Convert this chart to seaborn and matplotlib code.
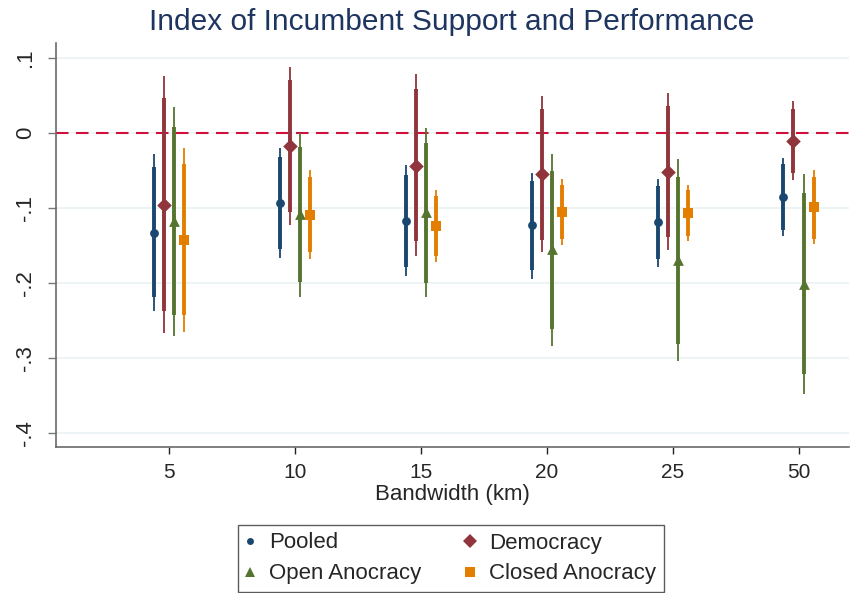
import numpy as np
import pandas as pd
import matplotlib
matplotlib.use("Agg")
import matplotlib.pyplot as plt
from matplotlib.lines import Line2D
import seaborn as sns

# bandwidths (x categories)
bandwidths = ["5", "10", "15", "20", "25", "50"]
groups = ["Pooled", "Democracy", "Open Anocracy", "Closed Anocracy"]

# point estimates per group, one per bandwidth
pooled_est = [-0.133, -0.093, -0.117, -0.123, -0.119, -0.085]
democ_est = [-0.096, -0.018, -0.044, -0.055, -0.052, -0.011]
open_est = [-0.118, -0.108, -0.106, -0.155, -0.169, -0.201]
closed_est = [-0.143, -0.109, -0.124, -0.105, -0.107, -0.099]

# 90% intervals (thick)
pooled_lo90 = [-0.219, -0.154, -0.178, -0.182, -0.168, -0.129]
pooled_hi90 = [-0.046, -0.032, -0.056, -0.064, -0.071, -0.042]
democ_lo90 = [-0.237, -0.105, -0.144, -0.143, -0.139, -0.053]
democ_hi90 = [0.046, 0.070, 0.058, 0.032, 0.035, 0.032]
open_lo90 = [-0.243, -0.199, -0.200, -0.261, -0.281, -0.321]
open_hi90 = [0.007, -0.019, -0.013, -0.051, -0.059, -0.080]
closed_lo90 = [-0.243, -0.159, -0.164, -0.141, -0.138, -0.141]
closed_hi90 = [-0.042, -0.059, -0.084, -0.070, -0.076, -0.059]

# 95% intervals (thin)
pooled_lo95 = [-0.237, -0.167, -0.190, -0.194, -0.178, -0.138]
pooled_hi95 = [-0.028, -0.020, -0.043, -0.053, -0.061, -0.033]
democ_lo95 = [-0.267, -0.123, -0.164, -0.159, -0.156, -0.063]
democ_hi95 = [0.075, 0.088, 0.078, 0.049, 0.053, 0.042]
open_lo95 = [-0.270, -0.218, -0.219, -0.283, -0.304, -0.347]
open_hi95 = [0.034, 0.000, 0.006, -0.028, -0.035, -0.055]
closed_lo95 = [-0.265, -0.168, -0.172, -0.149, -0.144, -0.148]
closed_hi95 = [-0.020, -0.049, -0.076, -0.062, -0.070, -0.050]

yticks = [0.1, 0, -0.1, -0.2, -0.3, -0.4]
ytick_labels = [".1", "0", "-.1", "-.2", "-.3", "-.4"]

colors = {"Pooled": "#1a476f", "Democracy": "#90353b",
          "Open Anocracy": "#55752f", "Closed Anocracy": "#e37e00"}
markers = {"Pooled": "o", "Democracy": "D", "Open Anocracy": "^", "Closed Anocracy": "s"}
sizes = {"Pooled": 40, "Democracy": 55, "Open Anocracy": 60, "Closed Anocracy": 50}
offsets = {"Pooled": -0.12, "Democracy": -0.04, "Open Anocracy": 0.04, "Closed Anocracy": 0.12}

est = [pooled_est, democ_est, open_est, closed_est]
lo90 = [pooled_lo90, democ_lo90, open_lo90, closed_lo90]
hi90 = [pooled_hi90, democ_hi90, open_hi90, closed_hi90]
lo95 = [pooled_lo95, democ_lo95, open_lo95, closed_lo95]
hi95 = [pooled_hi95, democ_hi95, open_hi95, closed_hi95]

rows = []
for g, e, l9, h9, l5, h5 in zip(groups, est, lo90, hi90, lo95, hi95):
    for i, bw in enumerate(bandwidths):
        rows.append({"group": g, "bw": bw, "pos": i + 1 + offsets[g], "est": e[i],
                     "lo90": l9[i], "hi90": h9[i], "lo95": l5[i], "hi95": h5[i]})
df = pd.DataFrame(rows)

sns.set_theme(style="white")
plt.rcParams["font.family"] = ["Liberation Sans", "DejaVu Sans"]

fig = plt.figure(figsize=(8.51, 5.93), dpi=100)
ax = fig.add_axes([0.0655, 0.2457, 0.932, 0.6813])

for y in yticks:
    ax.axhline(y, color="#eaf2f3", lw=1.2, zorder=0)
ax.axhline(0, color="#d0103a", lw=1.5, ls=(0, (6, 3.6)), zorder=1)

for g in groups:
    sub = df[df.group == g]
    ax.vlines(sub["pos"], sub["lo95"], sub["hi95"], color=colors[g], lw=1.3, zorder=2)
    ax.vlines(sub["pos"], sub["lo90"], sub["hi90"], color=colors[g], lw=2.8, zorder=3)
    sns.scatterplot(data=sub, x="pos", y="est", color=colors[g], marker=markers[g],
                    s=sizes[g], linewidth=0, ax=ax, zorder=4, legend=False)

ax.set_xlim(0.1, 6.4)
ax.set_ylim(-0.4184, 0.119)
ax.set_xticks(range(1, len(bandwidths) + 1))
ax.set_xticklabels(bandwidths, fontsize=15)
ax.set_yticks(yticks)
ax.set_yticklabels(ytick_labels, fontsize=16, rotation=90, va="center")
ax.tick_params(axis="y", direction="out", length=6, width=1, color="#777777", pad=8, left=True)
ax.tick_params(axis="x", direction="out", length=5, width=1, color="#222222", pad=6, bottom=True)
ax.set_xlabel("Bandwidth (km)", fontsize=16, labelpad=2)
ax.set_ylabel("")
for s in ["top", "right"]:
    ax.spines[s].set_visible(False)
for s in ["left", "bottom"]:
    ax.spines[s].set_color("#6a6a6a")
    ax.spines[s].set_linewidth(1.2)

fig.text(0.531, 0.963, "Index of Incumbent Support and Performance", ha="center",
         va="center", fontsize=21.5, color="#1e3560")

# legend filled row by row: Pooled, Democracy / Open, Closed
leg_order = ["Pooled", "Open Anocracy", "Democracy", "Closed Anocracy"]
leg_ms = {"Pooled": 5, "Democracy": 7.5, "Open Anocracy": 7, "Closed Anocracy": 6.5}
handles = [Line2D([], [], ls="", marker=markers[g], color=colors[g],
                  markersize=leg_ms[g], markeredgewidth=0) for g in leg_order]
leg = fig.legend(handles, leg_order, loc="center left",
                 bbox_to_anchor=(238 / 851, 1 - 558.5 / 593),
                 ncol=2, fontsize=16, frameon=True, fancybox=False, edgecolor="#333333",
                 handlelength=0.4, handletextpad=0.65, columnspacing=2.0,
                 borderpad=0.35, labelspacing=0.45, borderaxespad=0)
leg.get_frame().set_linewidth(1.0)

fig.savefig("out.png", dpi=100, facecolor="white")
